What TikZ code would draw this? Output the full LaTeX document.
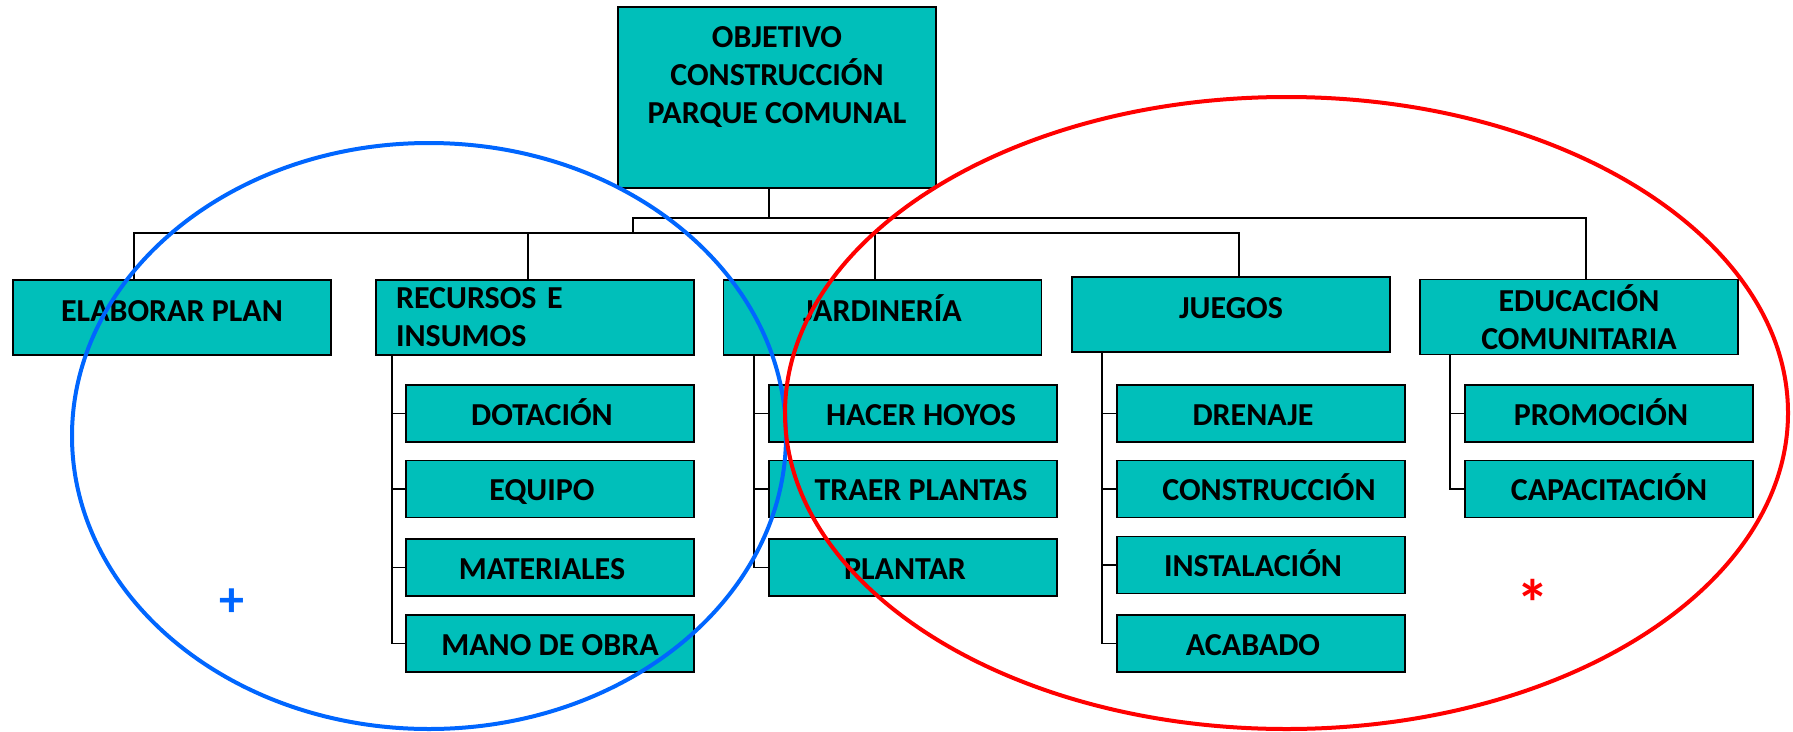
\documentclass[tikz,border=0pt]{standalone}
\usepackage{fontspec}
\setmainfont{Carlito}
\definecolor{boxteal}{RGB}{0,191,186}
\definecolor{eblue}{RGB}{0,102,255}
\definecolor{ered}{RGB}{255,0,0}
\newcommand\shl[1]{\kern-16pt#1}
\newcommand\shr[1]{#1\kern-16pt}
\begin{document}
\begin{tikzpicture}[x=1pt,y=-1pt,
  box/.style={draw=black, line width=1.8pt, fill=boxteal, inner sep=0pt,
    font=\fontsize{32}{38}\selectfont\bfseries},
  goalbox/.style={box, minimum width=318pt, minimum height=181pt},
  lvl/.style={box, minimum width=318pt, minimum height=75pt},
  lvlone/.style={lvl, text height=14pt, text depth=7pt},
  sub/.style={box, minimum width=288pt, minimum height=57pt, text height=26pt, text depth=3pt},
  conn/.style={line width=1.6pt, black},
  ring/.style={line width=4pt}]
\useasboundingbox (0,0) rectangle (1793,731);

% main box
\node[goalbox] (goal) at (777,97.5) {};
\node[font=\fontsize{32}{38}\selectfont\bfseries, align=center, inner sep=0pt] (goaltxt) at (777,77)
  {OBJETIVO\\CONSTRUCCIÓN\\PARQUE COMUNAL};

% level 1
\node[lvlone] (elab) at (172,317.5) {ELABORAR PLAN};
\node[lvl, align=left, text width=278pt, inner xsep=20pt] (rec) at (535,317.5) {RECURSOS E\\INSUMOS};
\node[lvlone] (jard) at (882.5,317.5) {JARDINERÍA};
\node[lvlone] (jue) at (1231,314.5) {JUEGOS};
\node[lvl, align=center] (edu) at (1579,317) {EDUCACIÓN\\COMUNITARIA};

% level 2
\node[sub] (dot) at (550,413.5) {\shl{DOTACIÓN}};
\node[sub] (equ) at (550,489) {\shl{EQUIPO}};
\node[sub] (mat) at (550,567.5) {\shl{MATERIALES}};
\node[sub] (mano) at (550,643.5) {MANO DE OBRA};

\node[sub] (hacer) at (913,413.5) {\shr{HACER HOYOS}};
\node[sub] (traer) at (913,489) {\shr{TRAER PLANTAS}};
\node[sub] (plantar) at (913,567.5) {\shl{PLANTAR}};

\node[sub] (dren) at (1261,413.5) {\shl{DRENAJE}};
\node[sub] (cons) at (1261,489) {\shr{CONSTRUCCIÓN}};
\node[sub] (inst) at (1261,565) {\shl{INSTALACIÓN}};
\node[sub] (acab) at (1261,643.5) {\shl{ACABADO}};

\node[sub] (prom) at (1609,413.5) {\shl{PROMOCIÓN}};
\node[sub] (cap) at (1609,489) {CAPACITACIÓN};

% junction coordinates
\coordinate (j1) at (769,218);
\coordinate (h1w) at (633,218);
\coordinate (h1e) at (1586,218);
\coordinate (h2w) at (134,233);
\coordinate (h2e) at (1239,233);
\coordinate (s2) at (528,233);
\coordinate (s3) at (875,233);
\coordinate (rv) at (392,0);
\coordinate (jv) at (754,0);
\coordinate (gv) at (1102,0);
\coordinate (ev) at (1450,0);

% connectors
\draw[conn] (goal.south -| j1) -- (j1);
\draw[conn] (h2w -| h1w) -- (h1w) -- (h1e) -- (edu.north -| h1e);
\draw[conn] (elab.north -| h2w) -- (h2w) -- (h2e) -- (jue.north -| h2e);
\draw[conn] (s2) -- (rec.north -| s2);
\draw[conn] (s3) -- (jard.north -| s3);

\draw[conn] (rec.south -| rv) |- (dot.west);
\draw[conn] (rec.south -| rv) |- (equ.west);
\draw[conn] (rec.south -| rv) |- (mat.west);
\draw[conn] (rec.south -| rv) |- (mano.west);

\draw[conn] (jard.south -| jv) |- (hacer.west);
\draw[conn] (jard.south -| jv) |- (traer.west);
\draw[conn] (jard.south -| jv) |- (plantar.west);

\draw[conn] (jue.south -| gv) |- (dren.west);
\draw[conn] (jue.south -| gv) |- (cons.west);
\draw[conn] (jue.south -| gv) |- (inst.west);
\draw[conn] (jue.south -| gv) |- (acab.west);

\draw[conn] (edu.south -| ev) |- (prom.west);
\draw[conn] (edu.south -| ev) |- (cap.west);

% ellipses
\draw[ring, eblue] (429,436) ellipse [x radius=357pt, y radius=293pt];
\draw[ring, ered] (1286.5,413) ellipse [x radius=501.5pt, y radius=316pt];

% marks
\node[text=eblue, font=\fontsize{50}{50}\selectfont\bfseries, inner sep=0pt] (plus) at (232,603) {+};
\node[text=ered, font=\fontsize{66}{66}\selectfont\bfseries, inner sep=0pt] (star) at (1533,603) {*};
\end{tikzpicture}
\end{document}
